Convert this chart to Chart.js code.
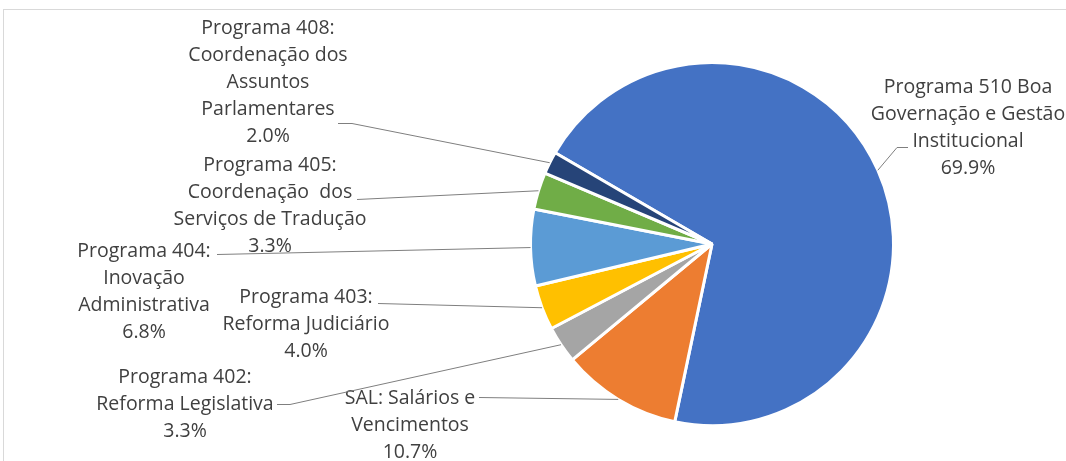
<!DOCTYPE html>
<html>
<head>
<meta charset="utf-8">
<script src="https://cdn.jsdelivr.net/npm/chart.js@4/dist/chart.umd.min.js"></script>
<style>
  html, body { margin: 0; padding: 0; background: #fff; overflow: hidden; }
  #frame { position: absolute; left: 3px; top: 9px; width: 1100px; height: 500px; border: 1px solid #d9d9d9; }
  #wrap { position: absolute; left: 0; top: 0; width: 1066px; height: 461px; }
</style>
</head>
<body>
<div id="frame"></div>
<div id="wrap"><canvas id="pie-chart"></canvas></div>
<script>
const programas = [
  'Programa 510 Boa Governação e Gestão Institucional',
  'SAL: Salários e Vencimentos',
  'Programa 402: Reforma Legislativa',
  'Programa 403: Reforma Judiciário',
  'Programa 404: Inovação Administrativa',
  'Programa 405: Coordenação dos Serviços de Tradução',
  'Programa 408: Coordenação dos Assuntos Parlamentares',
];
const percentagens = [69.9, 10.7, 3.3, 4.0, 6.8, 3.3, 2.0];

// label text as wrapped in the original
const linhasRotulo = [
  ['Programa 510 Boa', 'Governação e Gestão', 'Institucional'],
  ['SAL: Salários e', 'Vencimentos'],
  ['Programa 402:', 'Reforma Legislativa'],
  ['Programa 403:', 'Reforma Judiciário'],
  ['Programa 404:', 'Inovação', 'Administrativa'],
  ['Programa 405:', 'Coordenação  dos', 'Serviços de Tradução'],
  ['Programa 408:', 'Coordenação dos', 'Assuntos', 'Parlamentares'],
];

const cores = ['#4472C4', '#ED7D31', '#A5A5A5', '#FFC000', '#5B9BD5', '#70AD47', '#264478'];

// label placement (text centre x, first line y, leader start, optional elbow)
const labelLayout = [
  { x: 968, y: 87, from: [908, 147], elbow: [897, 147] },
  { x: 410, y: 398, from: [479, 397] },
  { x: 185, y: 377, from: [277, 404], elbow: [290, 404] },
  { x: 306, y: 297, from: [378, 303] },
  { x: 144, y: 251, from: [217, 254] },
  { x: 270, y: 165, from: [357, 199] },
  { x: 268, y: 28, from: [338, 123], elbow: [352, 123] },
];
const lineHeight = 27;

const leaderLabels = {
  id: 'leaderLabels',
  afterDatasetsDraw(chart) {
    const ctx = chart.ctx;
    const meta = chart.getDatasetMeta(0);
    ctx.save();
    meta.data.forEach((arc, i) => {
      const mid = (arc.startAngle + arc.endAngle) / 2;
      const ex = arc.x + Math.cos(mid) * arc.outerRadius;
      const ey = arc.y + Math.sin(mid) * arc.outerRadius;
      const lay = labelLayout[i];

      ctx.strokeStyle = '#7f7f7f';
      ctx.lineWidth = 1;
      ctx.beginPath();
      ctx.moveTo(lay.from[0], lay.from[1] + 0.5);
      if (lay.elbow) ctx.lineTo(lay.elbow[0], lay.elbow[1] + 0.5);
      ctx.lineTo(ex, ey);
      ctx.stroke();

      const linhas = linhasRotulo[i].concat([percentagens[i].toFixed(1) + '%']);
      ctx.fillStyle = '#404040';
      ctx.font = '19.5px "Open Sans"';
      ctx.textAlign = 'center';
      ctx.textBaseline = 'middle';
      linhas.forEach((t, k) => ctx.fillText(t, lay.x, lay.y + k * lineHeight));
    });
    ctx.restore();
  },
};

new Chart(document.getElementById('pie-chart'), {
  type: 'pie',
  data: {
    labels: programas,
    datasets: [
      {
        data: percentagens,
        backgroundColor: cores,
        borderColor: '#ffffff',
        borderWidth: 3,
        hoverOffset: 0,
      },
    ],
  },
  options: {
    responsive: true,
    maintainAspectRatio: false,
    animation: false,
    events: [],
    rotation: -59.8,
    layout: { padding: { left: 529, right: 171, top: 61, bottom: 34 } },
    plugins: {
      legend: { display: false },
      tooltip: { enabled: false },
    },
  },
  plugins: [leaderLabels],
});
</script>
</body>
</html>
